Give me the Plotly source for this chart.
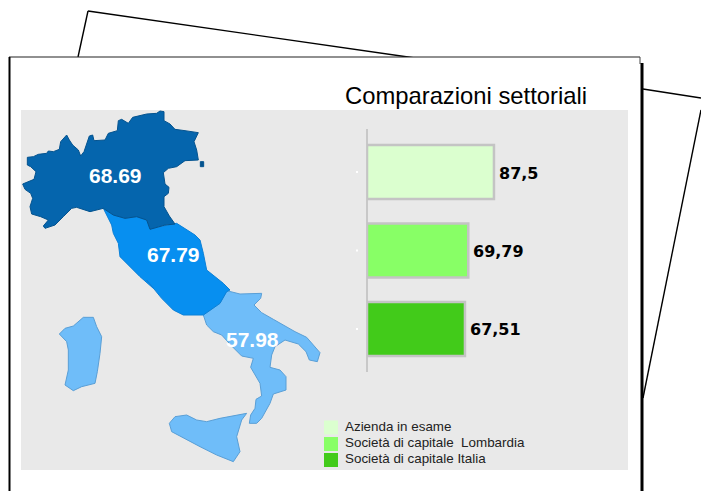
import plotly.graph_objects as go

W, H = 701, 491

# ---- data ----
bar_names = ["Azienda in esame", "Società di capitale  Lombardia", "Società di capitale Italia"]
bar_values = [87.5, 69.79, 67.51]
bar_labels = ["87,5", "69,79", "67,51"]
bar_colors = ["#dbffcf", "#88ff66", "#42cb1a"]
title_text = "Comparazioni settoriali"
region_labels = ["68.69", "67.79", "57.98"]
region_colors = ["#0565ad", "#078ff0", "#6fbdf9"]
region_edges = ["#04538f", "#0a80d8", "#5a9fd6"]

# region outlines (zoom-crop units)
north_z = [(38,252),(48,248),(72,238),(78,215),(62,200),(52,195),(52,172),(70,170),(85,163),(110,160),(115,153),(130,155),(148,148),(152,125),(165,112),(170,105),(178,120),(188,135),(205,150),(212,168),(222,155),(228,135),(238,108),(248,105),(252,122),(285,120),(295,100),(322,92),(325,62),(335,58),(355,70),(368,52),(385,48),(410,42),(440,40),(450,33),(462,35),(462,62),(480,72),(495,88),(525,92),(565,98),(552,125),(560,150),(565,180),(525,182),(500,200),(475,205),(460,218),(465,252),(477,262),(475,280),(462,290),(462,320),(478,348),(495,372),(465,375),(445,380),(420,388),(410,360),(380,350),(345,355),(310,345),(280,325),(240,335),(200,322),(185,325),(160,350),(135,375),(105,385),(100,378),(115,360),(92,350),(65,342),(60,320),(68,295),(62,280),(45,268)]
islet_z = [(571,185),(581,185),(581,200),(571,200)]
centre_a = [(280,325),(310,345),(345,355),(380,350),(410,360),(430,385),(450,380),(490,372),(500,370),(555,405),(570,420),(580,460),(590,510),(640,550),(660,570)]
centre_b = [(560,35),(540,70),(490,105),(430,105),(400,90),(365,55),(320,0)]
centre_c = [(430,565),(390,530),(330,470),(325,430),(310,400),(305,375)]
south_z = [(560,32),(600,42),(665,40),(662,55),(642,75),(665,98),(700,118),(730,135),(765,155),(800,172),(830,205),(840,218),(832,245),(808,240),(798,215),(775,192),(735,180),(705,200),(695,225),(690,262),(720,270),(738,290),(738,330),(700,342),(690,370),(665,415),(650,430),(628,430),(632,405),(645,385),(648,358),(665,348),(660,310),(645,285),(632,262),(640,235),(605,228),(575,198),(545,165),(520,155),(500,135),(490,105),(540,70)]
sardinia_z = [(58,162),(75,145),(100,138),(130,112),(160,112),(170,140),(185,170),(180,220),(172,275),(165,310),(125,320),(100,332),(75,315),(85,270),(85,210),(80,185)]
sicily_z = [(388,430),(405,410),(440,405),(470,420),(500,425),(540,415),(620,400),(605,420),(590,470),(600,515),(580,545),(530,525),(480,500),(430,475),(395,455)]


def z1(pts):
    return [(10 + x / 3, 100 + y / 3) for x, y in pts]


def z2(pts):
    return [(40 + x / 3, 280 + y / 3) for x, y in pts]


north = z1(north_z)
islet = z1(islet_z)
centre = z1(centre_a) + z2(centre_b) + z1(centre_c)
south = z2(south_z)
sardinia = z2(sardinia_z)
sicily = z2(sicily_z)

fig = go.Figure()


def region(pts, color, edge):
    xs = [p[0] for p in pts] + [pts[0][0]]
    ys = [p[1] for p in pts] + [pts[0][1]]
    fig.add_trace(go.Scatter(x=xs, y=ys, mode="lines", fill="toself", fillcolor=color,
                             line=dict(color=edge, width=1), hoverinfo="skip",
                             showlegend=False, xaxis="x", yaxis="y"))


region(south, region_colors[2], region_edges[2])
region(sardinia, region_colors[2], region_edges[2])
region(sicily, region_colors[2], region_edges[2])
region(centre, region_colors[1], region_edges[1])
region(north, region_colors[0], region_edges[0])
region(islet, region_edges[0], region_edges[0])

# bars
fig.add_trace(go.Bar(y=[0, 1, 2], x=bar_values, orientation="h", width=0.69,
                     marker=dict(color=bar_colors, line=dict(color="#c4c4c4", width=2.5)),
                     showlegend=False, xaxis="x2", yaxis="y2"))

# legend swatches
fig.add_trace(go.Scatter(x=[331, 331, 331], y=[427.5, 444, 460], mode="markers",
                         marker=dict(symbol="square", size=14, color=bar_colors),
                         showlegend=False, xaxis="x", yaxis="y", hoverinfo="skip"))

# white minor tick dots next to the bar axis
fig.add_trace(go.Scatter(x=[357, 357, 357], y=[172, 250.5, 329], mode="markers",
                         marker=dict(symbol="square", size=2, color="#ffffff"),
                         showlegend=False, xaxis="x", yaxis="y", hoverinfo="skip"))

BL = dict(color="#000000", width=1.4)
shapes = [
    dict(type="line", x0=78, y0=57, x1=88, y1=11, line=BL),
    dict(type="line", x0=88, y0=11, x1=415, y1=58, line=BL),
    dict(type="line", x0=643, y0=89, x1=701, y1=98, line=BL),
    dict(type="line", x0=701, y0=110, x1=643, y1=398, line=BL),
    dict(type="rect", x0=9, y0=57, x1=641, y1=491, fillcolor="#ffffff", line=dict(width=0)),
    dict(type="line", x0=9, y0=57, x1=640, y1=57, line=dict(color="#222222", width=1.2)),
    dict(type="line", x0=640, y0=57, x1=640, y1=64, line=dict(color="#444444", width=1)),
    dict(type="line", x0=9.5, y0=57, x1=9.5, y1=491, line=dict(color="#000000", width=2)),
    dict(type="line", x0=642, y0=63, x1=642, y1=491, line=dict(color="#000000", width=3)),
    dict(type="rect", x0=21, y0=110, x1=628, y1=470, fillcolor="#e9e9e9", line=dict(width=0)),
]
shapes = [dict(s, xref="x", yref="y", layer="below") for s in shapes]

annotations = [
    dict(x=343, y=95, text=title_text, xanchor="left", yanchor="middle", showarrow=False,
         font=dict(family="Liberation Sans", size=23.8, color="#000000"), xref="x", yref="y"),
]
for x, y, t in zip([115.5, 173.5, 252.5], [175, 254, 339], region_labels):
    annotations.append(dict(x=x, y=y, text=t, xanchor="center", yanchor="middle", showarrow=False,
                            font=dict(family="Liberation Sans", size=21, color="#ffffff", weight="bold"),
                            xref="x", yref="y"))
for i, (v, t) in enumerate(zip(bar_values, bar_labels)):
    annotations.append(dict(x=v, y=i, text=t, xanchor="left", yanchor="middle", showarrow=False,
                            xshift=3, yshift=-1,
                            font=dict(family="DejaVu Sans", size=16, color="#000000", weight="bold"),
                            xref="x2", yref="y2"))
for y, t in zip([426, 442, 458], bar_names):
    annotations.append(dict(x=343, y=y, text=t.replace("  ", "\u00a0 "), xanchor="left", yanchor="middle", showarrow=False,
                            font=dict(family="Liberation Sans", size=13.4, color="#222222"),
                            xref="x", yref="y"))

PX = 1.451  # px per value unit
x_dom = [367 / W, 628 / W]
y_dom = [1 - 372 / H, 1 - 129 / H]

fig.update_layout(
    width=W, height=H, margin=dict(l=0, r=0, t=0, b=0),
    paper_bgcolor="#ffffff", plot_bgcolor="rgba(0,0,0,0)",
    shapes=shapes, annotations=annotations, showlegend=False,
    xaxis=dict(range=[0, W], domain=[0, 1], visible=False, fixedrange=True),
    yaxis=dict(range=[H, 0], domain=[0, 1], visible=False, fixedrange=True),
    xaxis2=dict(range=[0, (628 - 367) / PX], domain=x_dom, anchor="y2", showgrid=False,
                zeroline=True, zerolinecolor="#c8c8c8", zerolinewidth=2,
                showticklabels=False, ticks="", showline=False),
    yaxis2=dict(range=[2.548, -0.548], domain=y_dom, anchor="x2", showgrid=False,
                zeroline=False, showticklabels=False, ticks="", showline=False),
)

fig.write_html("out.html", config=dict(displayModeBar=False),
               post_script="document.body.style.margin='0';")
